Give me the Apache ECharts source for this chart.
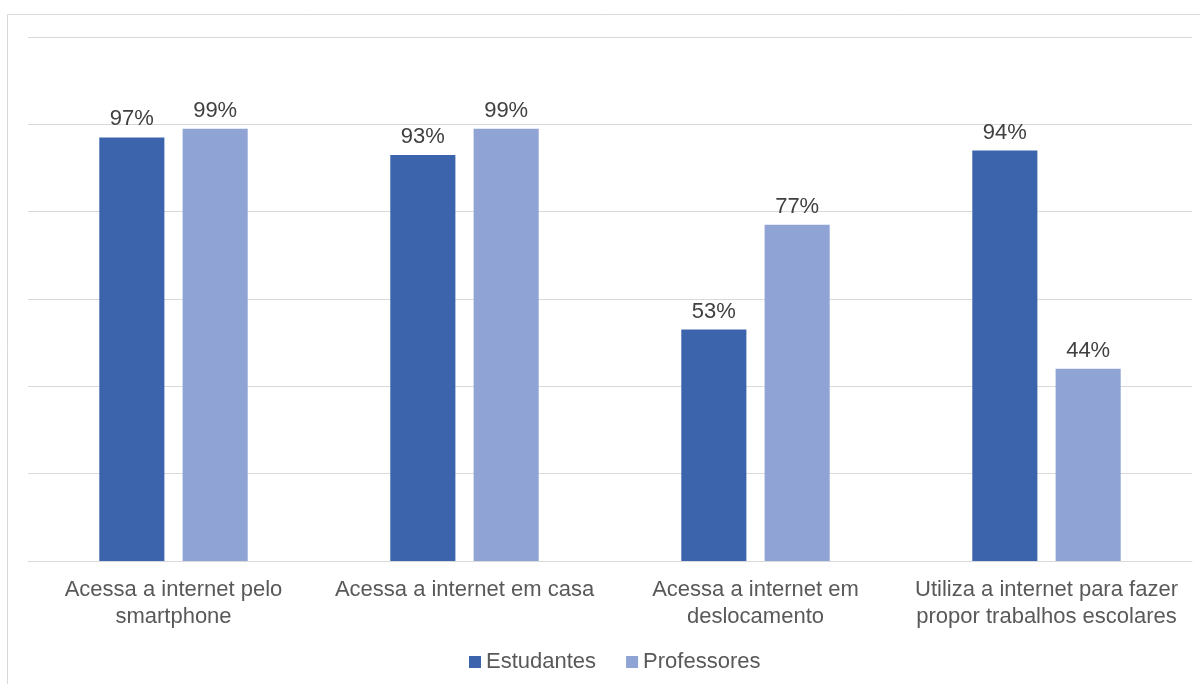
<!DOCTYPE html>
<html>
<head>
<meta charset="utf-8">
<script src="https://cdn.jsdelivr.net/npm/echarts@6/dist/echarts.min.js"></script>
<style>
  html, body { margin: 0; padding: 0; background: #fff; }
  #chart { width: 1200px; height: 684px; }
</style>
</head>
<body>
<div id="chart"></div>
<script>
// categorias e valores (%)
var categories = [
  'Acessa a internet pelo\nsmartphone',
  'Acessa a internet em casa',
  'Acessa a internet em\ndeslocamento',
  'Utiliza a internet para fazer\npropor trabalhos escolares'
];
var estudantes = [97, 93, 53, 94];
var professores = [99, 99, 77, 44];

var chart = echarts.init(document.getElementById('chart'));
var fontFamily = '"Liberation Sans", Arial, sans-serif';

var option = {
  animation: false,
  backgroundColor: '#fff',
  // moldura do gráfico
  graphic: [{
    type: 'rect',
    shape: { x: 7.5, y: 14.5, width: 1200, height: 700 },
    style: { fill: 'none', stroke: '#d9d9d9', lineWidth: 1 },
    silent: true
  }],
  legend: {
    bottom: 6,
    left: 464,
    icon: 'rect',
    itemWidth: 12,
    itemHeight: 12,
    itemGap: 30,
    textStyle: { fontFamily: fontFamily, fontSize: 22, color: '#595959' },
    data: ['Estudantes', 'Professores']
  },
  grid: {
    left: 28,
    right: 8,
    top: 37,
    bottom: 123
  },
  xAxis: {
    type: 'category',
    data: categories,
    axisTick: { show: false },
    axisLine: { lineStyle: { color: '#d9d9d9', width: 1 } },
    axisLabel: {
      interval: 0,
      margin: 15,
      fontFamily: fontFamily,
      fontSize: 22,
      lineHeight: 27,
      color: '#595959'
    }
  },
  yAxis: {
    type: 'value',
    min: 0,
    max: 120,
    interval: 20,
    axisLabel: { show: false },
    axisLine: { show: false },
    axisTick: { show: false },
    splitLine: { lineStyle: { color: '#d9d9d9', width: 1 } }
  },
  series: [{
    name: 'Estudantes',
    type: 'bar',
    data: estudantes,
    barGap: '28%',
    barCategoryGap: '49%',
    itemStyle: { color: '#3b64ad' },
    label: {
      show: true,
      position: 'top',
      distance: 7,
      formatter: '{c}%',
      fontFamily: fontFamily,
      fontSize: 22,
      color: '#404040'
    }
  }, {
    name: 'Professores',
    type: 'bar',
    data: professores,
    itemStyle: { color: '#8fa4d5' },
    label: {
      show: true,
      position: 'top',
      distance: 7,
      formatter: '{c}%',
      fontFamily: fontFamily,
      fontSize: 22,
      color: '#404040'
    }
  }]
};

chart.setOption(option);
</script>
</body>
</html>
